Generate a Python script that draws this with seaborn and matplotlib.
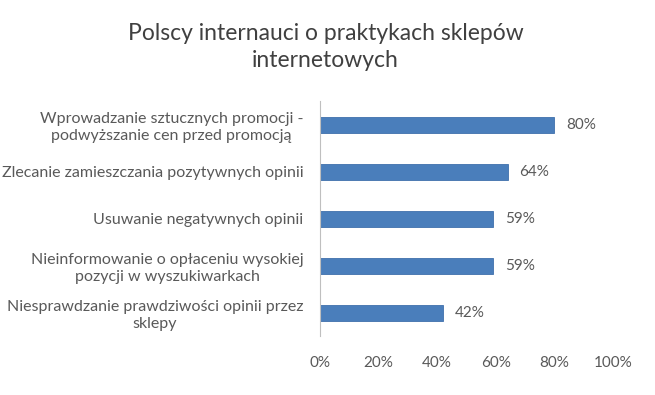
import matplotlib
matplotlib.use("Agg")
import matplotlib.pyplot as plt
import seaborn as sns
import pandas as pd

# Dane z wykresu
kategorie = [
    "Wprowadzanie sztucznych promocji -\npodwyższanie cen przed promocją",
    "Zlecanie zamieszczania pozytywnych opinii",
    "Usuwanie negatywnych opinii",
    "Nieinformowanie o opłaceniu wysokiej\npozycji w wyszukiwarkach",
    "Niesprawdzanie prawdziwości opinii przez\nsklepy",
]
wartosci = [80, 64, 59, 59, 42]
tytul = "Polscy internauci o praktykach sklepów\ninternetowych"
ticki = [0, 20, 40, 60, 80, 100]

df = pd.DataFrame({"kategoria": kategorie, "wartosc": wartosci})

sns.set_theme(style="white")
plt.rcParams["font.family"] = ["Lato", "DejaVu Sans"]

grey = "#595959"
fig = plt.figure(figsize=(6.55, 3.95), dpi=100)
ax = fig.add_axes([0.4885, 0.149, 0.4475, 0.595])

sns.barplot(data=df, x="wartosc", y="kategoria", color="#4A7EBB", saturation=1,
            width=0.34, edgecolor="#3F70AC", linewidth=0.6, ax=ax)

for i, v in enumerate(wartosci):
    ax.text(v + 4, i, f"{v}%", va="center", ha="left", fontsize=11, color=grey)

ax.set_xlim(0, 100)
ax.set_xticks(ticks=ticki, labels=[f"{t}%" for t in ticki])
ax.set_xlabel("")
ax.set_ylabel("")
ax.tick_params(axis="x", length=0, pad=14, labelsize=11, labelcolor=grey)
ax.tick_params(axis="y", length=0, pad=12, labelsize=11.5, labelcolor=grey)
for lbl in ax.get_yticklabels():
    lbl.set_multialignment("center")
    lbl.set_linespacing(1.25)

for s in ["top", "right", "bottom"]:
    ax.spines[s].set_visible(False)
ax.spines["left"].set_color("#BFBFBF")
ax.spines["left"].set_linewidth(0.8)

fig.text(0.497, 0.881, tytul, ha="center", va="center", fontsize=16.5,
         color="#404040", linespacing=1.4)

fig.savefig("out.png", dpi=100, facecolor="white")
